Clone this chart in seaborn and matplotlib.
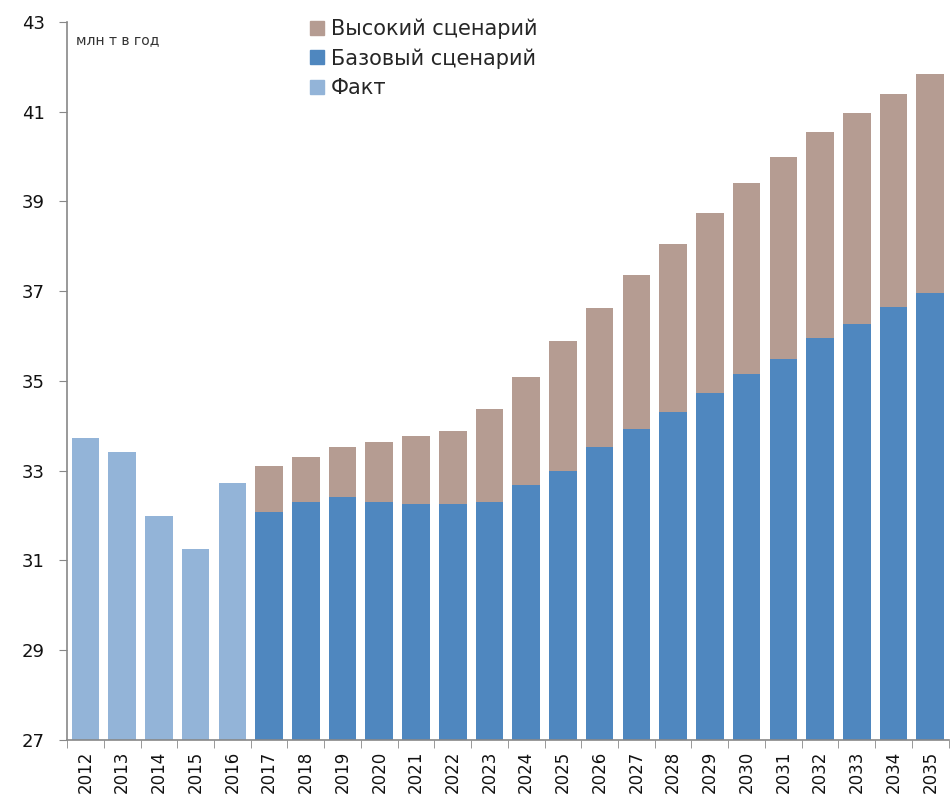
import pandas as pd
import matplotlib
matplotlib.use("Agg")
import matplotlib.pyplot as plt
import seaborn as sns
from matplotlib.lines import Line2D

years = [str(y) for y in range(2012, 2036)]
fact_years = ["2012", "2013", "2014", "2015", "2016"]
fact = [33.73, 33.42, 31.99, 31.25, 32.73]
fc_years = [str(y) for y in range(2017, 2036)]
base = [32.09, 32.31, 32.42, 32.31, 32.26, 32.26, 32.31, 32.69, 33.0, 33.53,
        33.94, 34.31, 34.74, 35.16, 35.49, 35.96, 36.27, 36.65, 36.96]
high = [33.10, 33.31, 33.52, 33.63, 33.78, 33.89, 34.37, 35.09, 35.9, 36.63,
        37.37, 38.06, 38.75, 39.41, 39.99, 40.55, 40.97, 41.40, 41.84]

c_fact = "#93b4d8"
c_base = "#4f87bf"
c_high = "#b59c92"

sns.set_style("white")
plt.rcParams['font.family'] = ['DejaVu Sans']

df_fc = pd.DataFrame({"year": fc_years, "base": base, "high": high})
df_fact = pd.DataFrame({"year": fact_years, "fact": fact})

fig = plt.figure(figsize=(9.51, 8.08), dpi=100)
ax = fig.add_axes([0.0705, 0.0842, 0.927, 0.8886])

# high total first, base drawn over it
sns.barplot(data=df_fc, x="year", y="high", order=years, color=c_high,
            width=0.75, saturation=1, linewidth=0, ax=ax)
sns.barplot(data=df_fc, x="year", y="base", order=years, color=c_base,
            width=0.75, saturation=1, linewidth=0, ax=ax)
sns.barplot(data=df_fact, x="year", y="fact", order=years, color=c_fact,
            width=0.75, saturation=1, linewidth=0, ax=ax)

ax.set_ylim(27, 43)
ax.set_xlim(-0.5, len(years) - 0.5)
ax.set_yticks(range(27, 44, 2))
ax.set_xlabel("")
ax.set_ylabel("")

for s in ["top", "right"]:
    ax.spines[s].set_visible(False)
for s in ["left", "bottom"]:
    ax.spines[s].set_color("#888888")
    ax.spines[s].set_linewidth(1.2)

ax.tick_params(axis="y", direction="out", length=6, color="#888888",
               labelsize=13, pad=10, left=True, labelcolor="#111111")
ax.tick_params(axis="x", which="major", length=0, labelsize=12,
               labelrotation=90, pad=8, labelcolor="#111111")
ax.set_xticks([i - 0.5 for i in range(len(years) + 1)], minor=True)
ax.tick_params(axis="x", which="minor", direction="out", length=6,
               color="#888888", bottom=True)

ax.text(0.01, 0.985, "млн т в год", transform=ax.transAxes, fontsize=10,
        va="top", ha="left", color="#333333")

handles = [
    Line2D([], [], marker="s", linestyle="", color=c_high, markersize=10),
    Line2D([], [], marker="s", linestyle="", color=c_base, markersize=10),
    Line2D([], [], marker="s", linestyle="", color=c_fact, markersize=10),
]
labels = ["Высокий сценарий", "Базовый сценарий", "Факт"]
fig.legend(handles, labels, loc="upper left",
           bbox_to_anchor=(300 / 951, 1 - 10 / 808), frameon=False,
           fontsize=15, handlelength=0.8, handletextpad=0.3,
           labelspacing=0.45, borderaxespad=0)

plt.savefig("out.png", dpi=100)
